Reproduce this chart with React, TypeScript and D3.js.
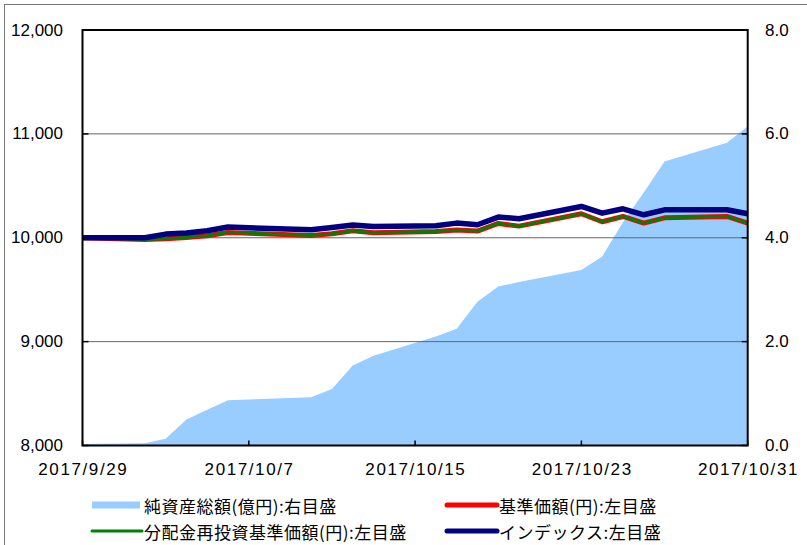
import React from "react";
import * as d3 from "d3";

const dates = ["2017-09-29","2017-10-02","2017-10-03","2017-10-04","2017-10-05","2017-10-06","2017-10-10","2017-10-11","2017-10-12","2017-10-13","2017-10-16","2017-10-17","2017-10-18","2017-10-19","2017-10-20","2017-10-23","2017-10-24","2017-10-25","2017-10-26","2017-10-27","2017-10-30","2017-10-31"];
const netAssets = [0.03,0.045,0.13,0.5,0.69,0.87,0.93,1.09,1.54,1.73,2.1,2.25,2.77,3.06,3.15,3.38,3.64,4.3,4.87,5.47,5.83,6.14];
const baseNav = [10000,9983,9990,10003,10019,10051,10022,10038,10067,10048,10061,10074,10064,10138,10112,10231,10154,10205,10141,10192,10205,10141];
const reinvestNav = [10000,9983,9990,10003,10019,10051,10022,10038,10067,10048,10061,10074,10064,10138,10112,10231,10154,10205,10141,10192,10205,10141];
const indexVals = [10000,10000,10035,10045,10067,10103,10077,10099,10122,10109,10115,10141,10125,10199,10183,10301,10237,10279,10221,10269,10269,10231];

const leftTicks = [8000,9000,10000,11000,12000];
const rightTicks = [0,2,4,6,8];
const xTickDates = ["2017-09-29","2017-10-07","2017-10-15","2017-10-23","2017-10-31"];
const legendLabels = ["純資産総額(億円):右目盛","基準価額(円):左目盛","分配金再投資基準価額(円):左目盛","インデックス:左目盛"];

const parse = d3.timeParse("%Y-%m-%d");
const fmtDate = d3.timeFormat("%Y/%-m/%-d");

export default function App() {
  const x0 = 82.5, x1 = 747.7, y0 = 30, y1 = 445.5;
  const x = d3.scaleTime().domain([parse("2017-09-29")!, parse("2017-10-31")!]).range([x0, x1]);
  const yL = d3.scaleLinear().domain([8000, 12000]).range([y1, y0]);
  const yR = d3.scaleLinear().domain([0, 8]).range([y1, y0]);
  const ds = dates.map((d) => parse(d)!);

  const area = d3.area<number>().x((_, i) => x(ds[i])).y0(y1).y1((v) => yR(v));
  const line = d3.line<number>().x((_, i) => x(ds[i])).y((v) => yL(v));

  const numFont = "'Liberation Sans', Arial, sans-serif";
  const jpFont = "'Noto Sans CJK JP', sans-serif";

  const legend = [
    { label: legendLabels[0], color: "#99CCFF", w: 7, x: 92, y: 505, rect: true },
    { label: legendLabels[1], color: "#FF0000", w: 5, x: 447, y: 505, rect: false },
    { label: legendLabels[2], color: "#008000", w: 3, x: 92, y: 531, rect: false },
    { label: legendLabels[3], color: "#000080", w: 5, x: 447, y: 531, rect: false },
  ];

  return (
    <svg width={807} height={545} style={{ position: "absolute", left: 0, top: 0, background: "#fff" }}>
      <rect x={4.5} y={4.5} width={820} height={560} fill="#fff" stroke="#777" strokeWidth={1} />
      <path d={area(netAssets) || ""} fill="#99CCFF" />
      {leftTicks.slice(1, -1).map((t) => (
        <line key={t} x1={x0} x2={x1} y1={yL(t)} y2={yL(t)} stroke="#666" strokeWidth={1} />
      ))}
      <path d={line(baseNav) || ""} fill="none" stroke="#FF0000" strokeWidth={5} strokeLinejoin="round" />
      <path d={line(reinvestNav) || ""} fill="none" stroke="#008000" strokeWidth={2.8} strokeLinejoin="round" />
      <path d={line(indexVals) || ""} fill="none" stroke="#000080" strokeWidth={5.5} strokeLinejoin="round" />
      <rect x={x0} y={y0} width={x1 - x0} height={y1 - y0} fill="none" stroke="#000" strokeWidth={2} />
      {leftTicks.map((t) => (
        <g key={"l" + t}>
          <line x1={x0} x2={x0 + 6} y1={yL(t)} y2={yL(t)} stroke="#000" strokeWidth={1.5} />
          <text x={63} y={yL(t)} textAnchor="end" dominantBaseline="central" fontFamily={numFont} fontSize={17}>
            {d3.format(",")(t)}
          </text>
        </g>
      ))}
      {rightTicks.map((t) => (
        <g key={"r" + t}>
          <line x1={x1 - 6} x2={x1} y1={yR(t)} y2={yR(t)} stroke="#000" strokeWidth={1.5} />
          <text x={765} y={yR(t)} textAnchor="start" dominantBaseline="central" fontFamily={numFont} fontSize={17}>
            {d3.format(".1f")(t)}
          </text>
        </g>
      ))}
      {xTickDates.map((d) => {
        const xx = x(parse(d)!);
        return (
          <g key={d}>
            <line x1={xx} x2={xx} y1={y1} y2={y1 - 5} stroke="#000" strokeWidth={1.5} />
            <text x={xx + 0.8} y={475} textAnchor="middle" fontFamily={numFont} fontSize={17} letterSpacing={1.6}>
              {fmtDate(parse(d)!)}
            </text>
          </g>
        );
      })}
      {legend.map((l) => (
        <g key={l.label}>
          {l.rect ? (
            <rect x={l.x} y={l.y - l.w / 2} width={48} height={l.w} fill={l.color} />
          ) : (
            <line x1={l.x} x2={l.x + 50} y1={l.y} y2={l.y} stroke={l.color} strokeWidth={l.w} strokeLinecap="round" />
          )}
          <text x={l.x + 52} y={l.y} dominantBaseline="central" fontFamily={jpFont} fontSize={17} letterSpacing={0.5}>
            {l.label}
          </text>
        </g>
      ))}
    </svg>
  );
}
